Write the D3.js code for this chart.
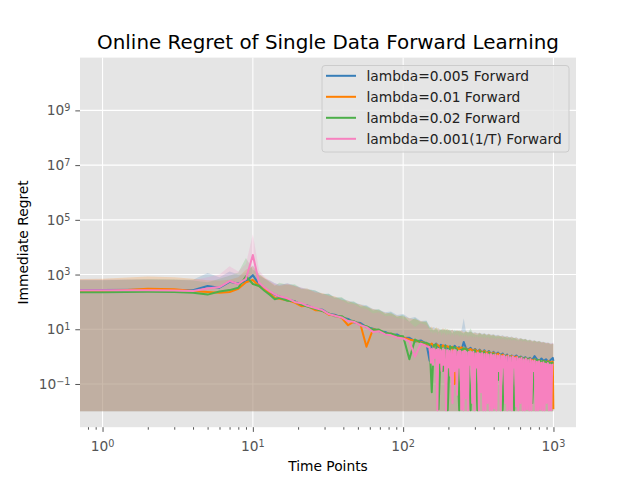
<!DOCTYPE html>
<html>
<head>
<meta charset="utf-8">
<script src="https://cdn.jsdelivr.net/npm/d3@7"></script>
<style>
  body { margin: 0; background: #fff; }
  text { font-family: "DejaVu Sans", sans-serif; }
</style>
</head>
<body>
<div id="content"></div>
<script>
// time points (t = 0 is clipped on the log axis, like matplotlib does)
var timePoints = [0,1,2,3,4,5,6,7,8,9,10,11,12,13,14,15,
    17,19,21,23,26,29,32,35,39,43,47,52,57,63,69,76,83,91,100,110,120,131,143,
    150,155,160,166,172,178,184,191,198,205,
    212,220,228,236,244,253,262,271,281,291,
    301,312,323,335,347,359,372,385,399,413,
    428,443,459,475,492,510,528,547,566,586,
    607,629,651,674,698,723,749,776,803,832,
    861,892,923,956,990,999];
// the 1/T run is sampled finer in its noisy tail
var tailTimesPink = [150,153,155,158,160,163,166,169,171,174,
    177,180,183,186,189,193,196,199,203,206,
    210,213,217,220,224,228,232,236,240,244,
    248,252,256,261,265,270,274,279,284,288,
    293,298,303,308,314,319,324,330,335,341,
    347,353,359,365,371,377,384,390,397,403,
    410,417,424,431,439,446,454,461,469,477,
    485,493,502,510,519,528,537,546,555,564,
    574,583,593,603,613,624,634,645,656,667,
    678,690,701,713,725,738,750,763,776,789,
    802,816,830,844,858,872,887,902,917,933,
    949,965,981,999];

var seriesNames = ['lambda=0.005 Forward', 'lambda=0.01 Forward', 'lambda=0.02 Forward', 'lambda=0.001(1/T) Forward'];
var seriesColors = ['#377eb8', '#ff7f00', '#4daf4a', '#f781bf'];

// mean regret
var lineLambda005 = [270,270,280,275,265,380,330,540,470,560,950,430,300,220,185,160,
    120,105,78,74,55,52,36,34,27,24,18,17,12,10.5,8.5,8,6.2,6.5,4.8,4.9,3.6,3.9,2.9,
    0.7,2.9,2.5,3.0,2.2,2.7,2.3,2.6,2.0,2.4,
    1.9,2.5,2.0,2.2,1.7,3.4,2.0,1.8,2.1,1.6,
    1.9,1.5,1.8,1.4,1.7,1.3,1.6,1.2,1.5,1.2,
    1.4,1.1,1.3,1.0,1.2,0.3,1.1,0.95,1.1,0.9,
    1.0,0.85,0.95,0.8,0.9,0.75,1.05,0.8,0.7,0.85,
    0.7,0.8,0.65,0.75,0.9,0.7];
var lineLambda01 = [235,240,300,290,250,230,215,230,300,520,630,380,280,200,140,130,
    115,95,70,72,50,48,34,32,26,14,19,15,2.3,10,9,7,6.8,5.5,5.0,4.2,3.8,3.4,3.0,
    2.6,3.0,2.3,2.8,2.5,2.1,2.6,2.2,2.4,2.0,
    2.3,0.1,2.1,1.9,2.2,1.8,2.0,1.7,1.9,1.6,
    1.8,1.5,1.7,1.4,1.6,1.3,1.5,1.2,1.4,1.1,
    1.3,1.05,1.2,1.0,1.1,0.95,1.05,0.9,1.0,0.85,
    0.95,0.8,0.9,0.75,0.85,0.7,0.8,0.65,0.75,0.6,
    0.7,0.62,0.68,0.6,0.65,0.012];
var lineLambda02 = [225,225,235,230,215,185,240,270,330,870,450,380,250,180,125,140,
    110,105,80,68,56,46,38,30,30,21,20,14,13,9.5,9.8,7.2,7.0,5.8,5.6,0.8,4.2,3.3,3.2,
    2.8,0.05,2.6,2.7,0.012,2.4,0.3,2.5,0.011,2.3,
    2.1,2.2,1.8,0.011,1.7,2.0,1.9,1.6,0.011,1.5,
    1.7,0.011,1.6,1.3,1.5,0.1,1.4,1.15,1.3,1.1,
    0.14,1.2,0.011,1.1,0.95,1.05,0.9,0.011,0.85,0.9,
    0.95,0.8,0.9,0.75,0.85,0.02,0.8,0.7,0.75,0.65,
    0.7,0.6,0.65,0.55,0.6,0.6];
var lineLambda001Head = [265,265,265,260,250,310,350,580,450,700,5200,500,330,240,190,160,
    135,100,90,72,60,50,36,31,27,20,19,14,12,8,8.5,6.5,6.0,5.0,4.6,3.6,1.0,3.0,2.4];
var lineLambda001Tail = [2.2,0.6,1.9,0.5,2.0,0.9,1.8,0.011,1.9,0.6,
    1.8,0.3,1.7,0.5,1.8,0.011,1.7,0.4,1.6,0.2,
    1.7,0.02,1.6,0.3,1.7,0.04,1.5,0.4,1.6,0.012,
    1.5,0.011,1.6,0.03,1.4,0.011,1.5,0.5,1.4,0.02,
    1.5,0.011,1.3,0.4,1.4,0.011,1.3,0.05,1.35,0.011,
    1.25,0.011,1.3,0.02,1.2,0.011,1.25,0.011,1.15,0.013,
    1.2,0.011,1.1,0.3,1.15,0.011,1.05,0.4,1.1,0.02,
    1.0,0.011,1.05,0.012,0.95,0.011,1.0,0.4,0.9,0.015,
    0.95,0.011,0.85,0.02,0.9,0.011,0.8,0.011,0.85,0.012,
    0.75,0.011,0.8,0.011,0.7,0.3,0.72,0.011,0.65,0.011,
    0.68,0.012,0.6,0.011,0.62,0.011,0.55,0.02,0.58,0.011,
    0.52,0.011,0.5,0.5];

// upper edge of the shaded band (lower edge sits on the floor)
var upperLambda005 = [650,650,680,660,640,1150,800,1300,1000,1100,2200,900,700,600,480,420,
    480,400,330,300,260,200,200,150,140,110,100,80,75,55,52,42,45,33,36,25,28,20,21,
    13,11,12,10,11,9.5,10.5,9,10,8.8,
    9.5,8.5,9,8.2,8.8,25,8,7.8,8.2,7.4,
    7.8,7.2,7.5,6.9,7.2,6.6,6.9,6.3,6.6,6,
    6.3,5.7,6,5.4,5.7,5.1,5.4,4.8,5.1,4.5,
    4.8,4.3,4.5,4.0,4.2,3.8,4.0,3.6,3.8,3.4,
    3.5,3.2,3.3,3.0,3.1,3.0];
var upperLambda01 = [680,700,850,800,700,620,600,650,800,1500,2000,1000,750,550,420,380,
    440,380,300,310,220,210,170,160,120,110,90,80,65,55,48,40,38,31,30,25,23,20,18,
    11,12.5,10,11.5,10.5,9.2,11,9.5,10.2,8.6,
    9.8,8,9.2,8.4,9,7.8,8.5,7.5,8.2,7.2,
    7.6,6.8,7.4,6.5,7,6.2,6.8,6,6.4,5.6,
    6.1,5.5,5.8,5.2,5.5,4.9,5.3,4.7,5,4.4,
    4.7,4.2,4.4,3.9,4.1,3.7,3.9,3.5,3.7,3.3,
    3.4,3.1,3.2,2.9,3.0,2.8];
var upperLambda02 = [620,620,660,640,600,520,700,900,1200,4000,1500,1100,700,520,380,500,
    420,440,310,280,260,190,200,140,150,95,105,68,72,48,55,36,42,28,34,19,26,18,20,
    12,10.5,9,11.5,8,10.5,9,11,8.8,10,
    7,9.6,8.2,9.2,7.8,7,8.6,7.4,11,7,
    6.5,6,7.2,6.2,6.8,5.9,6.5,5.7,6.2,5.4,
    5.5,5.6,5,5.3,4.8,5.1,4.6,4.9,4.4,4,
    4.5,4.1,4.3,3.8,4.0,3.4,3.8,3.4,3.6,3.2,
    3.3,3.0,3.1,2.8,2.9,2.9];
var upperLambda001Head = [640,640,640,630,620,800,1000,2000,1300,2500,30000,1400,800,600,480,420,
    470,370,340,270,240,190,165,130,115,85,82,60,55,38,42,30,31,25,24,19,12,17,14];
var upperLambda001Tail = [9.5,7,9,6.5,8.8,7.2,8.5,6,8.6,6.8,
    8.2,5.8,8,6.6,7.9,5.6,7.6,6.2,7.5,5.4,
    7.4,6,7.2,5.2,7.1,5.8,6.9,5.1,6.8,5.5,
    6.7,5,6.6,5.4,6.4,4.9,6.3,5.2,6.2,4.8,
    6.1,4.7,6,5,5.8,4.6,5.8,4.9,5.6,4.5,
    5.6,4.4,5.5,4.7,5.3,4.3,5.3,4.5,5.1,4.2,
    5.1,4.1,5,4.4,4.9,4,4.8,4.2,4.7,3.9,
    4.7,3.8,4.6,4,4.5,3.7,4.4,3.9,4.3,3.6,
    4.3,3.5,4.2,3.7,4.1,3.4,4,3.6,3.9,3.3,
    3.9,3.2,3.8,3.4,3.7,3.1,3.7,3.3,3.6,3.0,
    3.6,3.0,3.5,3.2,3.4,2.9,3.4,3.1,3.3,2.8,
    3.3,2.8,3.2,3.2];

var bandFloor = 0.01;
var xTickValues = [1, 10, 100, 1000];
var yTickValues = [1e-1, 1e1, 1e3, 1e5, 1e7, 1e9];

function draw_chart(){
    var W = 640, H = 480;
    var pL = 80, pR = 576, pT = 57.6, pB = 427.2;

    var svg = d3.select('#content').append('svg')
	.attr('width', W).attr('height', H);
    svg.append('rect').attr('width', W).attr('height', H).attr('fill', '#ffffff');

    var x = d3.scaleLog().domain([Math.pow(10, -0.15), Math.pow(10, 3.15)]).range([pL, pR]);
    var y = d3.scaleLog().domain([Math.pow(10, -2.58), Math.pow(10, 10.93)]).range([pB, pT]);

    function xpos(t){
	// t = 0 has no place on a log axis, push it just off the left edge
	if(t <= 0){
	    return pL - 2;
	}
	return x(t);
    }

    svg.append('rect')
	.attr('x', pL).attr('y', pT)
	.attr('width', pR - pL).attr('height', pB - pT)
	.attr('fill', '#E5E5E5');

    svg.append('clipPath').attr('id', 'plotclip')
	.append('rect')
	.attr('x', pL).attr('y', pT)
	.attr('width', pR - pL).attr('height', pB - pT);

    // grid
    var grid = svg.append('g');
    grid.selectAll('line.gx').data(xTickValues).enter().append('line')
	.attr('x1', function(d){ return x(d); })
	.attr('x2', function(d){ return x(d); })
	.attr('y1', pT).attr('y2', pB)
	.attr('stroke', '#ffffff').attr('stroke-width', 1.1);
    grid.selectAll('line.gy').data(yTickValues).enter().append('line')
	.attr('y1', function(d){ return y(d); })
	.attr('y2', function(d){ return y(d); })
	.attr('x1', pL).attr('x2', pR)
	.attr('stroke', '#ffffff').attr('stroke-width', 1.1);

    var pinkTimes = timePoints.slice(0, lineLambda001Head.length).concat(tailTimesPink);
    var times = [timePoints, timePoints, timePoints, pinkTimes];
    var lines = [lineLambda005, lineLambda01, lineLambda02, lineLambda001Head.concat(lineLambda001Tail)];
    var uppers = [upperLambda005, upperLambda01, upperLambda02, upperLambda001Head.concat(upperLambda001Tail)];

    var series = seriesNames.map(function(name, i){
	return {
	    name: name,
	    color: seriesColors[i],
	    points: times[i].map(function(t, j){
		return {t: t, v: lines[i][j], hi: uppers[i][j]};
	    })
	};
    });

    var plot = svg.append('g').attr('clip-path', 'url(#plotclip)');

    var area = d3.area()
	.x(function(d){ return xpos(d.t); })
	.y0(y(bandFloor))
	.y1(function(d){ return y(d.hi); });

    var line = d3.line()
	.x(function(d){ return xpos(d.t); })
	.y(function(d){ return y(d.v); });

    plot.selectAll('path.band').data(series).enter().append('path')
	.attr('class', 'band')
	.attr('d', function(s){ return area(s.points); })
	.attr('fill', function(s){ return s.color; })
	.attr('fill-opacity', 0.2);

    plot.selectAll('path.mean').data(series).enter().append('path')
	.attr('class', 'mean')
	.attr('d', function(s){ return line(s.points); })
	.attr('fill', 'none')
	.attr('stroke', function(s){ return s.color; })
	.attr('stroke-width', 2)
	.attr('stroke-linejoin', 'round');

    // axes
    var xMinor = [];
    [0.1, 1, 10, 100, 1000].forEach(function(dec){
	for(var m = 2; m < 10; m++){
	    var v = dec * m;
	    if(v > x.domain()[0] && v < x.domain()[1]){ xMinor.push(v); }
	}
    });

    var xAxis = svg.append('g').attr('transform', 'translate(0,' + pB + ')')
	.call(d3.axisBottom(x).tickValues(xTickValues).tickSize(4.7).tickFormat(function(){ return ''; }));
    var xAxisMinor = svg.append('g').attr('transform', 'translate(0,' + pB + ')')
	.call(d3.axisBottom(x).tickValues(xMinor).tickSize(2.5).tickFormat(function(){ return ''; }));
    var yAxis = svg.append('g').attr('transform', 'translate(' + pL + ',0)')
	.call(d3.axisLeft(y).tickValues(yTickValues).tickSize(4.7).tickFormat(function(){ return ''; }));
    [xAxis, xAxisMinor, yAxis].forEach(function(a){
	a.select('.domain').remove();
	a.selectAll('.tick line').attr('stroke', '#555555').attr('stroke-width', 1);
    });

    function expOf(v){
	var e = Math.round(Math.log10(v));
	return (e < 0 ? '\u2212' + (-e) : '' + e);
    }

    var xl = svg.append('g').selectAll('text').data(xTickValues).enter().append('text')
	.attr('x', function(d){ return x(d); })
	.attr('y', 451)
	.attr('text-anchor', 'middle')
	.attr('fill', '#555555')
	.attr('font-size', '13.8px');
    xl.append('tspan').text('10');
    xl.append('tspan').attr('dy', '-0.42em').attr('font-size', '9.7px').text(function(d){ return expOf(d); });

    var yl = svg.append('g').selectAll('text').data(yTickValues).enter().append('text')
	.attr('x', 70.5)
	.attr('y', function(d){ return y(d) + 5; })
	.attr('text-anchor', 'end')
	.attr('fill', '#555555')
	.attr('font-size', '13.8px');
    yl.append('tspan').text('10');
    yl.append('tspan').attr('dy', '-0.42em').attr('font-size', '9.7px').text(function(d){ return expOf(d); });

    // titles
    svg.append('text')
	.attr('x', (pL + pR) / 2).attr('y', 49)
	.attr('text-anchor', 'middle')
	.attr('font-size', '19.9px')
	.attr('fill', '#000000')
	.text('Online Regret of Single Data Forward Learning');

    svg.append('text')
	.attr('x', (pL + pR) / 2).attr('y', 471)
	.attr('text-anchor', 'middle')
	.attr('font-size', '13.8px')
	.attr('fill', '#000000')
	.text('Time Points');

    svg.append('text')
	.attr('transform', 'translate(28,' + ((pT + pB) / 2) + ') rotate(-90)')
	.attr('text-anchor', 'middle')
	.attr('font-size', '13.8px')
	.attr('fill', '#000000')
	.text('Immediate Regret');

    // legend
    var legend = svg.append('g');
    legend.append('rect')
	.attr('x', 322).attr('y', 65.5)
	.attr('width', 247).attr('height', 86.5)
	.attr('rx', 3)
	.attr('fill', '#E5E5E5').attr('fill-opacity', 0.8)
	.attr('stroke', '#cccccc').attr('stroke-width', 1);
    var rows = legend.selectAll('g.row').data(series).enter().append('g')
	.attr('transform', function(d, i){ return 'translate(0,' + (75.8 + i * 21) + ')'; });
    rows.append('line')
	.attr('x1', 326).attr('x2', 356)
	.attr('stroke', function(d){ return d.color; })
	.attr('stroke-width', 2);
    rows.append('text')
	.attr('x', 366.5).attr('y', 4.8)
	.attr('font-size', '13.8px')
	.attr('fill', '#222222')
	.text(function(d){ return d.name; });
}

draw_chart();
</script>
</body>
</html>
